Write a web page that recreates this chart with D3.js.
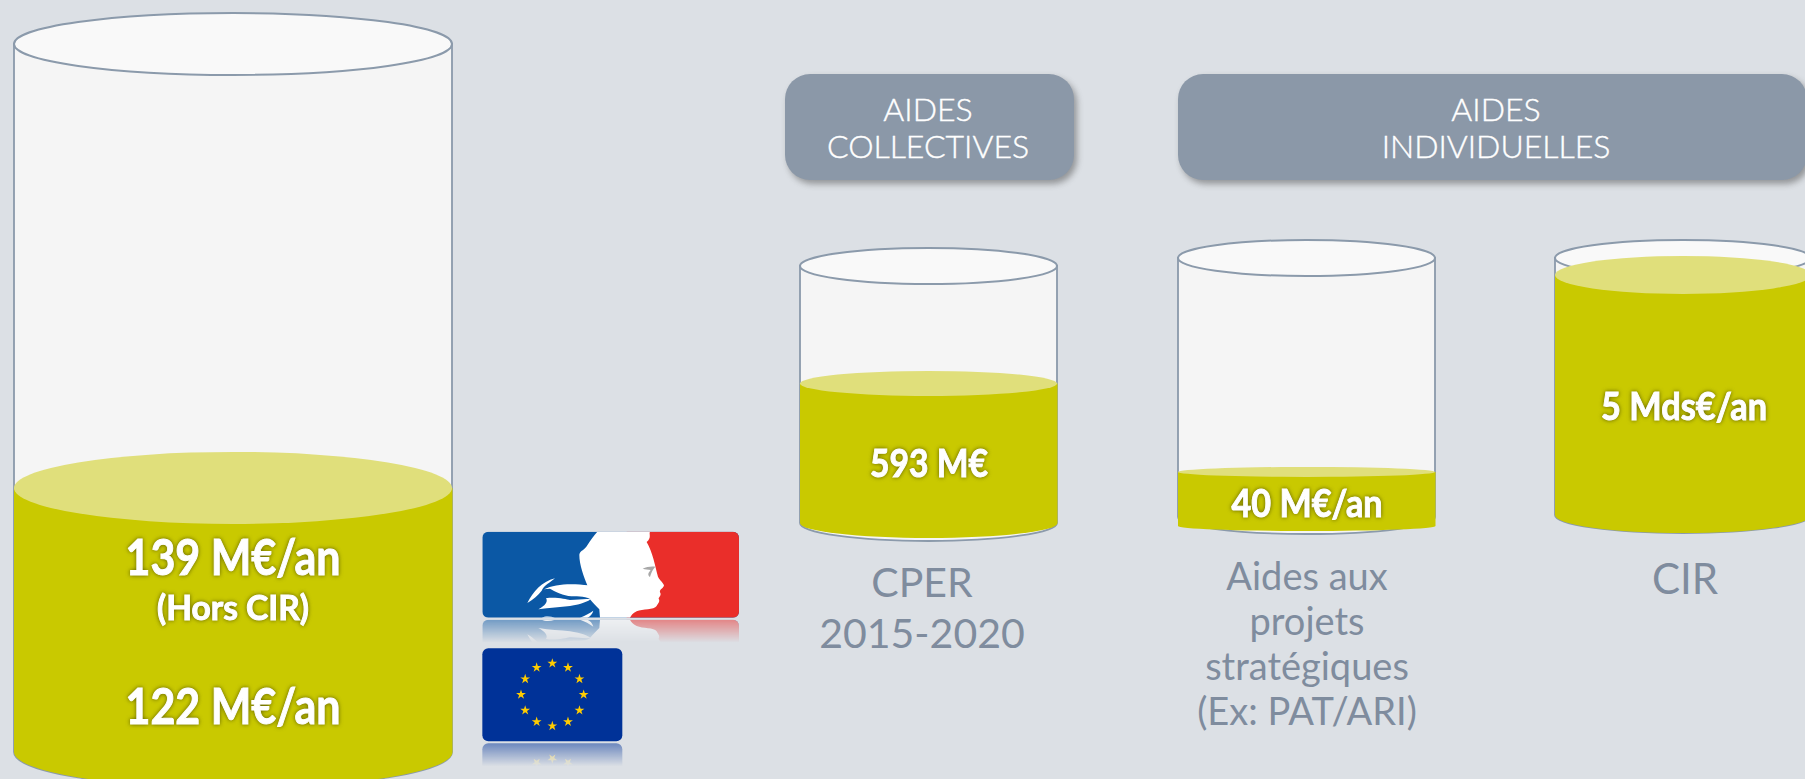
<!DOCTYPE html>
<html>
<head>
<meta charset="utf-8">
<script src="https://cdn.jsdelivr.net/npm/d3@7/dist/d3.min.js"></script>
<style>
  html, body { margin: 0; padding: 0; background: #dce0e5; overflow: hidden; }
  svg { display: block; }
</style>
</head>
<body>
<div id="chart"></div>
<script>
// -------------------- DATA --------------------
const CYLINDERS = ["national", "cper", "projets", "cir"];
const FILL_LEVELS = [0.373, 0.543, 0.174, 0.934];   // share of each glass
const VALUE_LABELS = [
  ["139 M€/an", "(Hors CIR)", "122 M€/an"],
  ["593 M€"],
  ["40 M€/an"],
  ["5 Mds€/an"]
];
const CAPTIONS = [
  [],
  ["CPER", "2015-2020"],
  ["Aides aux", "projets", "stratégiques", "(Ex: PAT/ARI)"],
  ["CIR"]
];
const GROUP_TITLES = [
  ["AIDES", "COLLECTIVES"],
  ["AIDES", "INDIVIDUELLES"]
];
const EU_STARS = d3.range(12);

// -------------------- LAYOUT --------------------
const W = 1805, H = 779;
const C = {
  glass: "#f5f5f5", rim: "#f9f9f9", line: "#8b9aab", liquid: "#c9c900",
  surface: "#e0df7b", panel: "#8b98a8", caption: "#7f8c9e"
};
const geometry = {
  national: { x0: 14, x1: 452, top: 44, base: 752, ry: 31, baseRy: 36, fillRy: 36, fillBase: 752, fillBaseRy: 36 },
  cper:     { x0: 800, x1: 1057, top: 266, base: 523, ry: 18, baseRy: 18, fillRy: 12.5, fillBase: 523, fillBaseRy: 15 },
  projets:  { x0: 1178, x1: 1435, top: 258, base: 517, ry: 18, baseRy: 17, fillRy: 5, fillBase: 526, fillBaseRy: 5 },
  cir:      { x0: 1555, x1: 1811, top: 258, base: 515, ry: 18, baseRy: 18, fillRy: 19, fillBase: 515, fillBaseRy: 18 }
};
const valueText = {
  national: { cx: 233, rows: [[575, 50, 215], [620, 34, 152], [724, 50, 215]] },
  cper:     { cx: 929, rows: [[477, 38, 118]] },
  projets:  { cx: 1307, rows: [[517, 38, 151]] },
  cir:      { cx: 1684, rows: [[420, 38, 166]] }
};
const captionText = {
  cper:    { cx: 922, y: 597, step: 51, size: 41 },
  projets: { cx: 1307, y: 590, step: 45, size: 38 },
  cir:     { cx: 1685, y: 594, step: 51, size: 42 }
};
const panels = [
  { x0: 785, x1: 1074, cx: 928 },
  { x0: 1178, x1: 1807, cx: 1496 }
];

const svg = d3.select("#chart").append("svg")
  .attr("width", W)
  .attr("height", H)
  .attr("viewBox", `0 0 ${W} ${H}`);

svg.append("rect").attr("width", W).attr("height", H).attr("fill", "#dce0e5");

const defs = svg.append("defs");

// -------------------- CYLINDERS --------------------
// side walls plus the lower half of an ellipse
function bodyPath(x0, x1, yTop, yBase, ry) {
  const rx = (x1 - x0) / 2;
  return `M${x0},${yTop}L${x0},${yBase}A${rx},${ry} 0 0 0 ${x1},${yBase}L${x1},${yTop}Z`;
}

CYLINDERS.forEach((name, i) => {
  const g = geometry[name];
  const level = d3.scaleLinear().domain([0, 1]).range([g.base, g.top]);
  const cx = (g.x0 + g.x1) / 2;
  const rx = (g.x1 - g.x0) / 2;
  const fillTop = level(FILL_LEVELS[i]);
  const cyl = svg.append("g").attr("class", `cyl-${name}`);

  cyl.append("path")
    .attr("d", bodyPath(g.x0, g.x1, g.top, g.base, g.baseRy))
    .attr("fill", C.glass)
    .attr("stroke", C.line)
    .attr("stroke-width", 1.8);

  cyl.append("ellipse")
    .attr("cx", cx).attr("cy", g.top)
    .attr("rx", rx).attr("ry", g.ry)
    .attr("fill", C.rim)
    .attr("stroke", C.line)
    .attr("stroke-width", 2);

  cyl.append("path")
    .attr("d", bodyPath(g.x0, g.x1 + 0.5, fillTop, g.fillBase, g.fillBaseRy))
    .attr("fill", C.liquid);

  cyl.append("ellipse")
    .attr("cx", cx).attr("cy", fillTop)
    .attr("rx", rx).attr("ry", g.fillRy)
    .attr("fill", C.surface);

  // values
  const vt = valueText[name];
  cyl.selectAll("text.value")
    .data(VALUE_LABELS[i])
    .join("text")
    .attr("class", "value")
    .attr("x", vt.cx)
    .attr("y", (d, j) => vt.rows[j][0])
    .attr("text-anchor", "middle")
    .attr("textLength", (d, j) => vt.rows[j][2])
    .attr("lengthAdjust", "spacingAndGlyphs")
    .style("font-family", "Lato, sans-serif")
    .style("font-weight", 700)
    .style("font-size", (d, j) => vt.rows[j][1] + "px")
    .style("fill", "#fff")
    .style("stroke", "#fff")
    .style("stroke-width", 1)
    .style("filter", "drop-shadow(0 0 2px rgba(70,70,0,.8))")
    .text(d => d);

  // captions
  const ct = captionText[name];
  if (ct) {
    svg.selectAll(`text.caption-${name}`)
      .data(CAPTIONS[i])
      .join("text")
      .attr("class", `caption-${name}`)
      .attr("x", ct.cx)
      .attr("y", (d, j) => ct.y + j * ct.step)
      .attr("text-anchor", "middle")
      .style("font-family", "Lato, sans-serif")
      .style("font-size", ct.size + "px")
      .style("fill", C.caption)
      .text(d => d);
  }
});

// -------------------- GROUP PANELS --------------------
panels.forEach((p, i) => {
  svg.append("rect")
    .attr("x", p.x0).attr("y", 74)
    .attr("width", p.x1 - p.x0).attr("height", 106)
    .attr("rx", 25)
    .attr("fill", C.panel)
    .style("filter", "drop-shadow(3px 4px 3px rgba(60,60,60,.45))");

  svg.selectAll(`text.title-${i}`)
    .data(GROUP_TITLES[i])
    .join("text")
    .attr("class", `title-${i}`)
    .attr("x", p.cx)
    .attr("y", (d, j) => 121 + j * 37)
    .attr("text-anchor", "middle")
    .style("font-family", "Lato, sans-serif")
    .style("font-weight", 300)
    .style("font-size", "32px")
    .style("fill", "#fff")
    .style("stroke", "#fff")
    .style("stroke-width", 0.4)
    .text(d => d);
});

// -------------------- FLAGS --------------------
// both flags are drawn in a local frame 3x the page, origin at (470, 520)
const fr = { x: 37, y: 35, w: 770, h: 258 };
const eu = { x: 37, y: 385, w: 420, h: 279, cx: 247, cy: 524, r: 94 };

defs.append("clipPath").attr("id", "clip-fr")
  .append("rect").attr("x", fr.x).attr("y", fr.y)
  .attr("width", fr.w).attr("height", fr.h).attr("rx", 18);

function drawFrance(parent) {
  const f = parent.append("g").attr("clip-path", "url(#clip-fr)");
  f.append("rect").attr("x", fr.x).attr("y", fr.y).attr("width", fr.w).attr("height", fr.h).attr("fill", "#0b58a5");
  f.append("rect").attr("x", 470).attr("y", fr.y).attr("width", 340).attr("height", fr.h).attr("fill", "#ea2e2a");
  // Marianne: head and neck
  f.append("path").attr("fill", "#fff").attr("d",
    "M382,35L540,35C536,42 546,52 530,66C548,96 556,140 564,170C570,182 582,190 582,197" +
    "C578,206 568,208 570,217C576,226 566,232 566,236C572,244 562,252 560,258" +
    "C552,270 518,266 500,274C488,280 484,286 480,293L390,293L388,268C378,258 368,248 360,238" +
    "L352,196C342,170 328,135 328,104C330,92 345,90 352,76C362,60 372,46 382,35Z");
  // hair strands
  f.append("path").attr("fill", "#fff").attr("d",
    "M172,249C190,215 215,185 255,175C240,188 222,196 215,212C205,225 190,238 172,249Z" +
    "M222,208C255,190 310,190 355,196L362,238C340,225 320,232 295,228C270,222 250,212 240,206Z" +
    "M205,268C225,258 235,245 228,235C255,230 290,238 300,240C325,240 345,235 362,238C345,250 320,255 300,258C270,262 240,262 205,268Z" +
    "M215,293C225,288 240,288 255,293Z M330,293C345,288 358,280 370,272C368,282 360,290 352,293Z");
  // eye
  f.append("path").attr("fill", "#a8a8a8").attr("d",
    "M518,146C530,140 545,138 556,140C548,148 544,158 540,171C534,166 532,162 542,150C534,148 526,149 518,146Z");
}

function drawEU(parent) {
  const f = parent.append("g");
  f.append("rect").attr("x", eu.x).attr("y", eu.y).attr("width", eu.w).attr("height", eu.h).attr("rx", 18).attr("fill", "#003298");
  const star = d3.symbol().type(d3.symbolStar).size(270);
  const angle = d3.scaleLinear().domain([0, 12]).range([0, 2 * Math.PI]);
  f.selectAll("path.star")
    .data(EU_STARS)
    .join("path")
    .attr("class", "star")
    .attr("d", star)
    .attr("fill", "#ffcc00")
    .attr("transform", d => `translate(${eu.cx + eu.r * Math.sin(angle(d))},${eu.cy - eu.r * Math.cos(angle(d))})`);
}

// reflection below a flag, fading out over 25px
function reflect(id, parent, draw, edgeY, opacity) {
  const grad = defs.append("linearGradient").attr("id", `fade-${id}`)
    .attr("gradientUnits", "userSpaceOnUse")
    .attr("x1", 0).attr("x2", 0).attr("y1", edgeY).attr("y2", edgeY + 75);
  grad.append("stop").attr("offset", 0).attr("stop-color", "#fff").attr("stop-opacity", opacity);
  grad.append("stop").attr("offset", 1).attr("stop-color", "#fff").attr("stop-opacity", 0);
  defs.append("mask").attr("id", `mask-${id}`)
    .attr("maskUnits", "userSpaceOnUse")
    .attr("x", 0).attr("y", edgeY).attr("width", 900).attr("height", 75)
    .append("rect").attr("x", 0).attr("y", edgeY).attr("width", 900).attr("height", 75)
    .attr("fill", `url(#fade-${id})`);
  const holder = parent.append("g").attr("mask", `url(#mask-${id})`);
  const mirrored = holder.append("g")
    .attr("transform", `translate(0,${2 * edgeY + 6}) scale(1,-1)`)
    .style("filter", "blur(1.5px)");
  draw(mirrored);
}

const flags = svg.append("g").attr("transform", "translate(470,520) scale(0.3333)");
reflect("fr", flags, drawFrance, fr.y + fr.h, 0.55);
reflect("eu", flags, drawEU, eu.y + eu.h, 0.55);
drawFrance(flags);
drawEU(flags);
</script>
</body>
</html>
